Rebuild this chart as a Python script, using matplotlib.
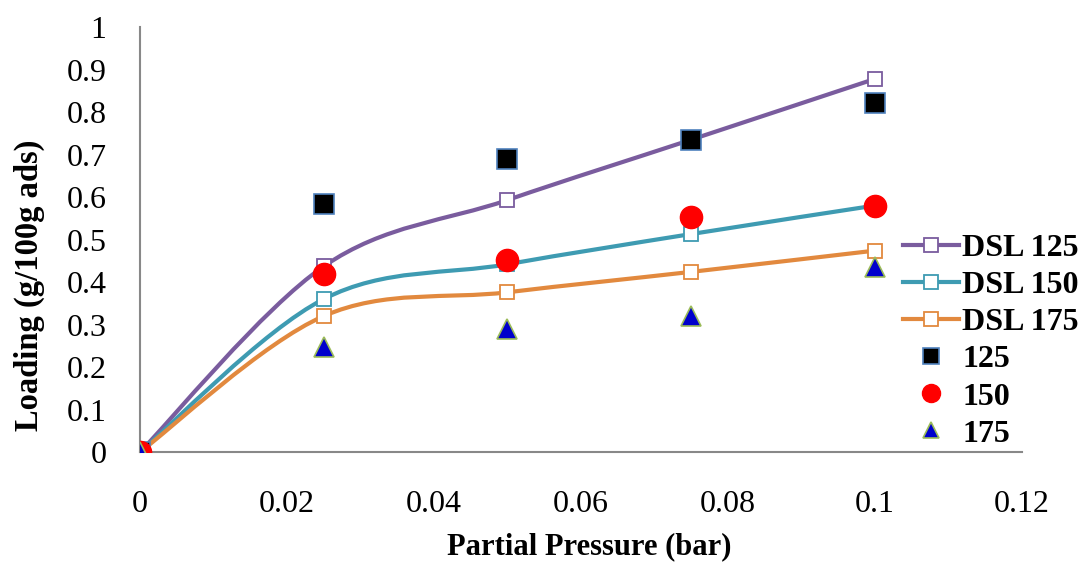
import numpy as np
import matplotlib
matplotlib.use("Agg")
import matplotlib.pyplot as plt
from matplotlib.path import Path
from matplotlib.patches import PathPatch
from matplotlib.lines import Line2D

plt.rcParams['font.family'] = ['Liberation Serif', 'DejaVu Serif']

# partial pressure (bar)
pressure = [0, 0.025, 0.05, 0.075, 0.1]

# dual-site Langmuir fits
dsl_125 = [0, 0.437, 0.593, 0.735, 0.878]
dsl_150 = [0, 0.360, 0.442, 0.513, 0.580]
dsl_175 = [0, 0.320, 0.376, 0.424, 0.474]

# measured loading
exp_125 = [0, 0.584, 0.689, 0.735, 0.821]
exp_150 = [0, 0.419, 0.452, 0.553, 0.580]
exp_175 = [0, 0.247, 0.289, 0.321, 0.435]

fit_labels = ['DSL 125', 'DSL 150', 'DSL 175']
exp_labels = ['125', '150', '175']
fit_colors = ['#7A5C9E', '#3E9BB2', '#E2893E']


def smooth_path(xs, ys):
    # bezier segments like a spreadsheet "smoothed line"
    pts = np.column_stack([xs, ys])
    n = len(pts)
    verts = [pts[0]]
    codes = [Path.MOVETO]
    for i in range(n - 1):
        p0 = pts[max(i - 1, 0)]
        p1 = pts[i]
        p2 = pts[i + 1]
        p3 = pts[min(i + 2, n - 1)]
        c1 = p1 + (p2 - p0) / 6
        c2 = p2 - (p3 - p1) / 6
        verts += [c1, c2, p2]
        codes += [Path.CURVE4] * 3
    return Path(verts, codes)


fig = plt.figure(figsize=(10.79, 5.63), dpi=100)
ax = fig.add_axes([0.1297, 0.197, 0.8175, 0.755])

handles = []
for ys, col, lab in zip([dsl_125, dsl_150, dsl_175], fit_colors, fit_labels):
    ax.add_patch(PathPatch(smooth_path(pressure, ys), fill=False,
                           edgecolor=col, lw=3, capstyle='round', zorder=2))
    ax.plot(pressure, ys, ls='none', marker='s', ms=10, mfc='white',
            mec=col, mew=1.3, zorder=3)
    handles.append(Line2D([], [], color=col, lw=3, marker='s', ms=10,
                          mfc='white', mec=col, mew=1.3))

ax.plot(pressure, exp_125, ls='none', marker='s', ms=15, mfc='black',
        mec='#4F81BD', mew=1.2, zorder=4)
ax.plot(pressure, exp_150, ls='none', marker='o', ms=16, mfc='#FF0000',
        mec='#FF0000', mew=1, zorder=4)
ax.plot(pressure, exp_175, ls='none', marker='^', ms=15, mfc='#0000CC',
        mec='#9BBB59', mew=1.2, zorder=5)
handles.append(Line2D([], [], ls='none', marker='s', ms=12, mfc='black',
                      mec='#4F81BD', mew=1.2))
handles.append(Line2D([], [], ls='none', marker='o', ms=13, mfc='#FF0000',
                      mec='#FF0000'))
handles.append(Line2D([], [], ls='none', marker='^', ms=12, mfc='#0000CC',
                      mec='#9BBB59', mew=1.2))

ax.set_xlim(0, 0.12)
ax.set_ylim(0, 1)
ax.set_xticks(np.arange(0, 0.121, 0.02))
ax.set_xticklabels(['0', '0.02', '0.04', '0.06', '0.08', '0.1', '0.12'])
ax.set_yticks(np.arange(0, 1.01, 0.1))
ax.set_yticklabels(['0', '0.1', '0.2', '0.3', '0.4', '0.5', '0.6', '0.7',
                    '0.8', '0.9', '1'])
ax.tick_params(length=0, labelsize=23)
ax.tick_params(axis='x', pad=27)
ax.tick_params(axis='y', pad=24)

for side in ['top', 'right']:
    ax.spines[side].set_visible(False)
for side in ['left', 'bottom']:
    ax.spines[side].set_color('#888888')
    ax.spines[side].set_linewidth(1.5)

ax.set_xlabel('Partial Pressure (bar)', fontsize=22, fontweight='bold',
              va='center')
ax.set_ylabel('Loading (g/100g ads)', fontsize=23.5, fontweight='bold',
              va='center')
ax.xaxis.set_label_coords(0.509, -0.2235)
ax.yaxis.set_label_coords(-0.125, 0.393)

leg = fig.legend(handles, fit_labels + exp_labels, loc='upper left',
                 bbox_to_anchor=(0.825, 0.607), frameon=False,
                 prop={'size': 23, 'weight': 'bold'}, handlelength=1.75,
                 handletextpad=0.1, labelspacing=0.24, borderaxespad=0)

fig.savefig('out.png', dpi=100)
